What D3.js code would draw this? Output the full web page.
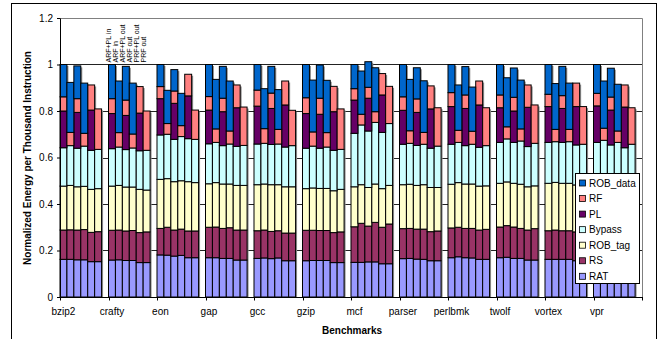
<!DOCTYPE html>
<html>
<head>
<meta charset="utf-8">
<script src="https://cdn.jsdelivr.net/npm/d3@7"></script>
<style>
  body { margin: 0; background: #fff; }
  svg { display: block; font-family: "Liberation Sans", Arial, sans-serif; }
</style>
</head>
<body>
<div id="chart"></div>
<script>
const groups = ["bzip2", "crafty", "eon", "gap", "gcc", "gzip", "mcf", "parser", "perlbmk", "twolf", "vortex", "vpr"];
const configs = ["ARF+PL in", "ARF in", "ARF+PL out", "ARF out", "PRF+PL out", "PRF out"];
const layers = ["RAT", "RS", "ROB_tag", "Bypass", "PL", "RF", "ROB_data"];
const colors = ["#9999FF", "#993366", "#FFFFCC", "#CCFFFF", "#660066", "#FF8080", "#0066CC"];
const yTicks = [0, 0.2, 0.4, 0.6, 0.8, 1, 1.2];

// one row per benchmark, one value per configuration
const RAT = [
  [.162, .162, .160, .160, .152, .152],
  [.159, .160, .157, .157, .148, .148],
  [.181, .180, .176, .179, .169, .169],
  [.169, .169, .166, .166, .159, .159],
  [.166, .168, .165, .168, .156, .156],
  [.156, .157, .157, .157, .148, .148],
  [.149, .149, .151, .151, .143, .143],
  [.165, .166, .163, .162, .156, .156],
  [.169, .173, .169, .168, .162, .162],
  [.169, .171, .166, .166, .159, .159],
  [.162, .162, .162, .162, .156, .156],
  [.165, .165, .163, .163, .157, .157]
];
const RS = [
  [.126, .127, .128, .130, .126, .129],
  [.128, .128, .127, .129, .129, .132],
  [.114, .120, .112, .113, .115, .115],
  [.131, .132, .129, .132, .129, .129],
  [.119, .120, .117, .117, .119, .119],
  [.131, .130, .129, .129, .129, .132],
  [.153, .168, .154, .170, .157, .171],
  [.129, .129, .129, .130, .125, .128],
  [.128, .127, .126, .127, .126, .129],
  [.132, .136, .135, .129, .129, .135],
  [.123, .126, .123, .123, .124, .124],
  [.125, .127, .125, .125, .125, .125]
];
const ROB_tag = [
  [.189, .191, .186, .186, .185, .185],
  [.190, .192, .189, .187, .186, .180],
  [.211, .209, .208, .208, .212, .208],
  [.187, .191, .191, .188, .192, .192],
  [.198, .198, .201, .198, .199, .199],
  [.179, .182, .181, .181, .180, .183],
  [.172, .166, .166, .165, .166, .166],
  [.189, .190, .188, .191, .190, .187],
  [.188, .192, .191, .191, .189, .187],
  [.188, .188, .188, .190, .186, .184],
  [.204, .205, .204, .204, .202, .204],
  [.197, .198, .197, .197, .196, .196]
];
const Bypass = [
  [.165, .171, .166, .173, .168, .169],
  [.161, .165, .161, .168, .166, .171],
  [.191, .191, .182, .190, .185, .186],
  [.172, .173, .165, .172, .168, .172],
  [.175, .175, .173, .175, .171, .177],
  [.174, .180, .173, .178, .174, .172],
  [.230, .257, .243, .265, .242, .266],
  [.174, .176, .172, .174, .169, .178],
  [.172, .173, .165, .171, .167, .173],
  [.176, .185, .176, .186, .173, .183],
  [.176, .175, .176, .179, .172, .173],
  [.178, .184, .169, .180, .164, .179]
];
const PL = [
  [.158, 0, .154, 0, .173, 0],
  [.151, 0, .147, 0, .162, 0],
  [.156, 0, .155, 0, .184, 0],
  [.145, 0, .146, 0, .166, 0],
  [.163, 0, .155, 0, .181, 0],
  [.149, 0, .146, 0, .166, 0],
  [.143, 0, .141, 0, .161, 0],
  [.146, 0, .142, 0, .169, 0],
  [.162, 0, .160, 0, .182, 0],
  [.149, 0, .135, 0, .169, 0],
  [.154, 0, .146, 0, .165, 0],
  [.157, 0, .150, 0, .175, 0]
];
const RF = [
  [.061, .057, .059, .055, .108, .174],
  [.064, .062, .066, .060, .114, .169],
  [.052, .046, .053, .047, .093, .126],
  [.058, .058, .058, .056, .098, .165],
  [.069, .063, .066, .063, .103, .152],
  [.068, .061, .069, .062, .109, .174],
  [.049, .046, .047, .046, .092, .160],
  [.058, .054, .058, .051, .099, .165],
  [.060, .052, .058, .056, .103, .163],
  [.055, .052, .059, .052, .096, .165],
  [.053, .053, .055, .053, .101, .162],
  [.054, .052, .056, .049, .095, .157]
];
const ROB_data = [
  [.139, .215, .141, .216, 0, 0],
  [.147, .222, .145, .219, 0, 0],
  [.095, .143, .092, .139, 0, 0],
  [.138, .213, .137, .215, 0, 0],
  [.110, .172, .115, .171, 0, 0],
  [.143, .223, .143, .225, 0, 0],
  [.104, .186, .110, .189, 0, 0],
  [.139, .221, .134, .222, 0, 0],
  [.121, .195, .122, .190, 0, 0],
  [.131, .211, .126, .210, 0, 0],
  [.128, .197, .126, .199, 0, 0],
  [.124, .203, .124, .201, 0, 0]
];

const layerData = { RAT, RS, ROB_tag, Bypass, PL, RF, ROB_data };

const width = 659, height = 339;
const margin = {top: 18, right: 17, bottom: 42, left: 60};
const plotW = width - margin.left - margin.right;
const plotH = height - margin.top - margin.bottom;

const svg = d3.select("#chart").append("svg")
  .attr("width", width)
  .attr("height", height);

// outer chart frame
svg.append("rect")
  .attr("x", 11.5).attr("y", 3.5)
  .attr("width", 645).attr("height", 345)
  .attr("fill", "#fff")
  .attr("stroke", "#000");

const g = svg.append("g")
  .attr("transform", "translate(" + margin.left + "," + margin.top + ")");

const x0 = d3.scaleBand().domain(groups).range([0, plotW]);
const x1 = d3.scaleBand().domain([...configs, "blank"]).range([0, x0.bandwidth()]);
const y = d3.scaleLinear().domain([0, 1.2]).range([plotH, 0]);

// plot area border (top/right)
g.append("path")
  .attr("d", "M0.5,0.5H" + (plotW + 0.5) + "V" + plotH)
  .attr("fill", "none")
  .attr("stroke", "#808080");

// gridlines
g.append("g").selectAll("line")
  .data(yTicks.filter(t => t > 0 && t < 1.2))
  .join("line")
  .attr("x1", 0).attr("x2", plotW)
  .attr("y1", d => Math.round(y(d)) + 0.5)
  .attr("y2", d => Math.round(y(d)) + 0.5)
  .attr("stroke", "#222");

// rows for the stack
const rows = [];
groups.forEach((grp, gi) => {
  configs.forEach((cfg, ci) => {
    const r = {group: grp, cfg: cfg};
    layers.forEach(l => { r[l] = layerData[l][gi][ci]; });
    rows.push(r);
  });
});

const series = d3.stack().keys(layers)(rows);
const barX = d => x0(d.data.group) + x1(d.data.cfg);

// drop shadow behind each bar
g.append("g").selectAll("rect")
  .data(series[series.length - 1])
  .join("rect")
  .attr("x", d => barX(d) + 1.5)
  .attr("y", d => y(d[1]) + 1.5)
  .attr("width", x1.bandwidth())
  .attr("height", d => y(0) - y(d[1]) - 1.5)
  .attr("fill", "#8c8c8c");

g.append("g").selectAll("g")
  .data(series)
  .join("g")
  .attr("fill", (d, i) => colors[i])
  .selectAll("rect")
  .data(d => d.filter(p => p[1] - p[0] > 0))
  .join("rect")
  .attr("x", barX)
  .attr("y", d => y(d[1]))
  .attr("width", x1.bandwidth())
  .attr("height", d => y(d[0]) - y(d[1]))
  .attr("stroke", "#000")
  .attr("stroke-width", 1);

// y axis
const yAxis = g.append("g")
  .call(d3.axisLeft(y).tickValues(yTicks).tickSize(3).tickPadding(4)
    .tickFormat(d => d3.format("")(+d.toFixed(1))));
yAxis.select(".domain").attr("stroke", "#000");
yAxis.selectAll("text").attr("font-size", 10).attr("fill", "#000")
  .attr("font-family", "Liberation Sans, Arial, sans-serif");

// x axis: ticks on group boundaries, labels under first bar
const xAxis = g.append("g").attr("transform", "translate(0," + plotH + ")");
xAxis.append("line")
  .attr("x1", 0).attr("x2", plotW)
  .attr("y1", 0.5).attr("y2", 0.5)
  .attr("stroke", "#000");
xAxis.selectAll(".tk")
  .data([...groups.map(d => x0(d)), plotW])
  .join("line")
  .attr("class", "tk")
  .attr("x1", d => Math.round(d) + 0.5).attr("x2", d => Math.round(d) + 0.5)
  .attr("y1", 0).attr("y2", 3.5)
  .attr("stroke", "#000");
xAxis.selectAll(".lbl")
  .data(groups)
  .join("text")
  .attr("class", "lbl")
  .attr("x", d => x0(d) + x1(configs[0]) + x1.bandwidth() / 2)
  .attr("y", 18)
  .attr("text-anchor", "middle")
  .attr("font-size", 10)
  .text(d => d);

// configuration labels above the crafty group
g.append("g").selectAll("text")
  .data(configs)
  .join("text")
  .attr("transform", d => "translate(" + (x0("crafty") + x1(d) + x1.bandwidth() / 2 - 0.5) + "," + (y(1) - 2) + ") rotate(-90)")
  .attr("font-size", 7)
  .text(d => d);

// axis titles
svg.append("text")
  .attr("x", 352).attr("y", 334)
  .attr("text-anchor", "middle")
  .attr("font-size", 10).attr("font-weight", "bold")
  .text("Benchmarks");
svg.append("text")
  .attr("transform", "translate(31,158) rotate(-90)")
  .attr("text-anchor", "middle")
  .attr("font-size", 10).attr("font-weight", "bold")
  .text("Normalized Energy per Thousand Instruction");

// legend
const legend = svg.append("g").attr("transform", "translate(575.5,173.5)");
legend.append("rect")
  .attr("width", 64).attr("height", 110)
  .attr("fill", "#fff").attr("stroke", "#000");
const items = layers.map((l, i) => ({name: l, color: colors[i]})).reverse();
const li = legend.selectAll(".item")
  .data(items)
  .join("g")
  .attr("class", "item")
  .attr("transform", (d, i) => "translate(0," + (9.5 + i * 15.55) + ")");
li.append("rect")
  .attr("x", 4).attr("y", -3)
  .attr("width", 6).attr("height", 6)
  .attr("fill", d => d.color)
  .attr("stroke", "#000").attr("stroke-width", 0.8);
li.append("text")
  .attr("x", 13.5).attr("y", 3.6)
  .attr("font-size", 10)
  .text(d => d.name);
</script>
</body>
</html>
